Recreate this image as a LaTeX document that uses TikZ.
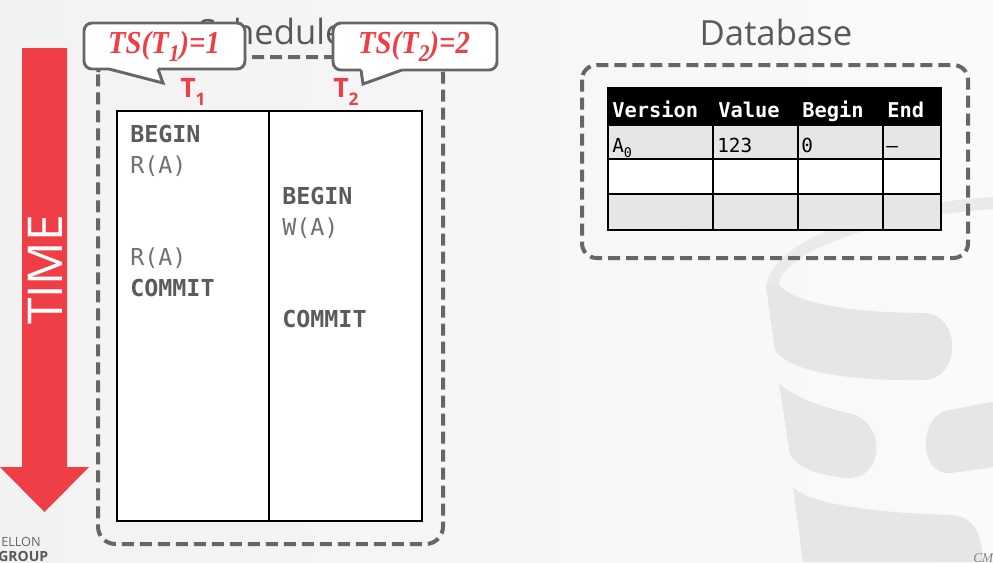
\documentclass[tikz,border=0pt]{standalone}
\usepackage{fontspec}
\setmainfont{Open Sans}
\newfontfamily\codefont{DejaVu Sans Mono}
\newfontfamily\tsfont{Liberation Serif}
\newfontfamily\capfont{Liberation Serif}

\definecolor{bgA}{HTML}{F2F2F2}
\definecolor{bgB}{HTML}{FAFAFA}
\definecolor{wm}{HTML}{E6E6E6}
\definecolor{rim}{HTML}{EAEAEA}
\definecolor{cmured}{HTML}{EF3E45}
\definecolor{dashgray}{HTML}{666666}
\definecolor{titlegray}{HTML}{595959}
\definecolor{opbold}{HTML}{5B5B5B}
\definecolor{opthin}{HTML}{707070}
\definecolor{rowgray}{HTML}{E6E6E6}

\begin{document}
\begin{tikzpicture}[x=0.75pt,y=-0.75pt,
  dashbox/.style={draw=dashgray, line width=3pt, dash pattern=on 9pt off 4.5pt},
  bubble/.style={draw=dashgray, fill=white, line width=2.2pt, rounded corners=6pt},
  bubbletail/.style={draw=dashgray, line width=2.2pt, line join=miter},
  tslabel/.style={text=cmured, inner sep=0, font=\tsfont\bfseries\itshape\fontsize{24}{24}\selectfont},
  txlabel/.style={text=cmured, inner sep=0, anchor=base west, font=\bfseries\fontsize{20}{20}\selectfont},
  title/.style={text=titlegray, inner sep=0, anchor=base, font=\fontsize{26}{26}\selectfont},
  op/.style={text=opthin, inner sep=0, anchor=base west, font=\codefont\fontsize{17.5}{20}\selectfont},
  opb/.style={op, text=opbold, font=\codefont\bfseries\fontsize{17.5}{20}\selectfont},
  hcell/.style={text=white, inner sep=0, anchor=base west, font=\codefont\bfseries\fontsize{15.3}{18}\selectfont},
  cell/.style={text=black, inner sep=0, anchor=base west, font=\codefont\fontsize{14.5}{18}\selectfont},
  grid/.style={draw=black, line width=1.2pt}
]
\useasboundingbox (0,0) rectangle (993,562);

% backdrop
\shade[left color=bgA, right color=bgB] (0,0) rectangle (993,562);

% faint database watermark: top rim and body bands
\fill[rim] (766,287) .. controls (772,240) and (870,205) .. (993,197)
  -- (993,209)
  .. controls (885,216) and (782,250) .. (779,285) -- cycle;
\fill[wm] (766,286) -- (779,284)
  .. controls (790,302) and (850,313) .. (923,313)
  .. controls (962,313) and (962,380) .. (923,380)
  .. controls (860,381) and (790,374) .. (775,350)
  -- cycle;
\fill[wm] (779,383) .. controls (795,398) and (825,408) .. (848,413)
  .. controls (886,420) and (886,478) .. (848,478)
  .. controls (820,476) and (798,468) .. (790,455)
  -- cycle;
\fill[wm] (993,402) -- (993,467)
  .. controls (975,470) and (960,472) .. (950,473)
  .. controls (918,476) and (918,412) .. (950,410)
  .. controls (965,407) and (980,404) .. (993,402) -- cycle;
\fill[wm] (793,487) .. controls (810,505) and (880,513) .. (950,515)
  .. controls (975,516) and (982,535) .. (983,562)
  -- (803,562) -- cycle;

% titles
\node[title] (schedtitle) at (271,44) {Schedule};
\node[title] (dbtitle) at (776,45) {Database};

% time arrow
\fill[cmured] (22,48) -- (67,48) -- (67,467) -- (89,467) -- (44.5,512)
  -- (0,467) -- (22,467) -- cycle;
\node[rotate=90, text=white, inner sep=0, font=\fontsize{36}{36}\selectfont] (time) at (45,270) {TIME};

% schedule frame and transaction columns
\draw[dashbox, rounded corners=13pt] (98,57) rectangle (443,544);
\draw[fill=white, draw=black, line width=0.8pt] (117,111) rectangle (422,521);
\draw[black, line width=0.8pt] (269,111) -- (269,521);

\node[txlabel] (t1) at (180,97) {T\raisebox{-6pt}{\fontsize{13}{13}\selectfont 1}};
\node[txlabel] (t2) at (333,97) {T\raisebox{-6pt}{\fontsize{13}{13}\selectfont 2}};

\node[opb] (begin1) at (130,142) {BEGIN};
\node[op]  (read1)  at (130,173) {R(A)};
\node[opb] (begin2) at (282,204) {BEGIN};
\node[op]  (write2) at (282,235) {W(A)};
\node[op]  (read2)  at (130,265) {R(A)};
\node[opb] (commit1) at (130,296) {COMMIT};
\node[opb] (commit2) at (282,327) {COMMIT};

% timestamp callouts
\draw[bubble] (84,23) rectangle (245,69);
\fill[white] (109,65) -- (109,69) -- (163,83) -- (158,69) -- (158,65) -- cycle;
\draw[bubbletail] (109,69) -- (163,83) -- (158,69);
\node[tslabel] (ts1) at (164,46) {\scalebox{0.9}[1]{TS(T\raisebox{-6pt}{\fontsize{18}{18}\selectfont 1})=1}};

\draw[bubble] (333,23) rectangle (497,70);
\fill[white] (361,66) -- (361,70) -- (363,84) -- (402,70) -- (402,66) -- cycle;
\draw[bubbletail] (361,70) -- (363,84) -- (402,70);
\node[tslabel] (ts2) at (414,46) {\scalebox{0.9}[1]{TS(T\raisebox{-6pt}{\fontsize{18}{18}\selectfont 2})=2}};

% database frame and version table
\draw[dashbox, rounded corners=11pt] (582,65) rectangle (968,258);
\fill[black]   (608,88)  rectangle (941,125);
\fill[rowgray] (608,125) rectangle (941,159);
\fill[white]   (608,159) rectangle (941,194);
\fill[rowgray] (608,194) rectangle (941,230);
\draw[grid] (608,88) rectangle (941,230);
\draw[grid] (608,125) -- (941,125);
\draw[grid] (608,159) -- (941,159);
\draw[grid] (608,194) -- (941,194);
\draw[grid] (713,88) -- (713,230);
\draw[grid] (798,88) -- (798,230);
\draw[grid] (883,88) -- (883,230);

\node[hcell] (hver) at (612,117) {Version};
\node[hcell] (hval) at (718,117) {Value};
\node[hcell] (hbeg) at (802,117) {Begin};
\node[hcell] (hend) at (887,117) {End};
\node[cell] (cver) at (612,152) {A\raisebox{-3.8pt}{\fontsize{10}{10}\selectfont 0}};
\node[cell] (cval) at (717,152) {123};
\node[cell] (cbeg) at (801,152) {0};
\node[cell] (cend) at (886,152) {–};

% footer fragments
\node[anchor=base west, inner sep=0, text=dashgray, font=\fontsize{9.5}{9.5}\selectfont] (ellon) at (1,546) {ELLON};
\node[anchor=base west, inner sep=0, text=titlegray, font=\bfseries\fontsize{10.5}{10.5}\selectfont] (group) at (-2,561) {GROUP};
\node[anchor=north west, inner sep=0, text=gray, font=\capfont\itshape\fontsize{10}{10}\selectfont] (cm) at (973,553) {CM};
\end{tikzpicture}
\end{document}
